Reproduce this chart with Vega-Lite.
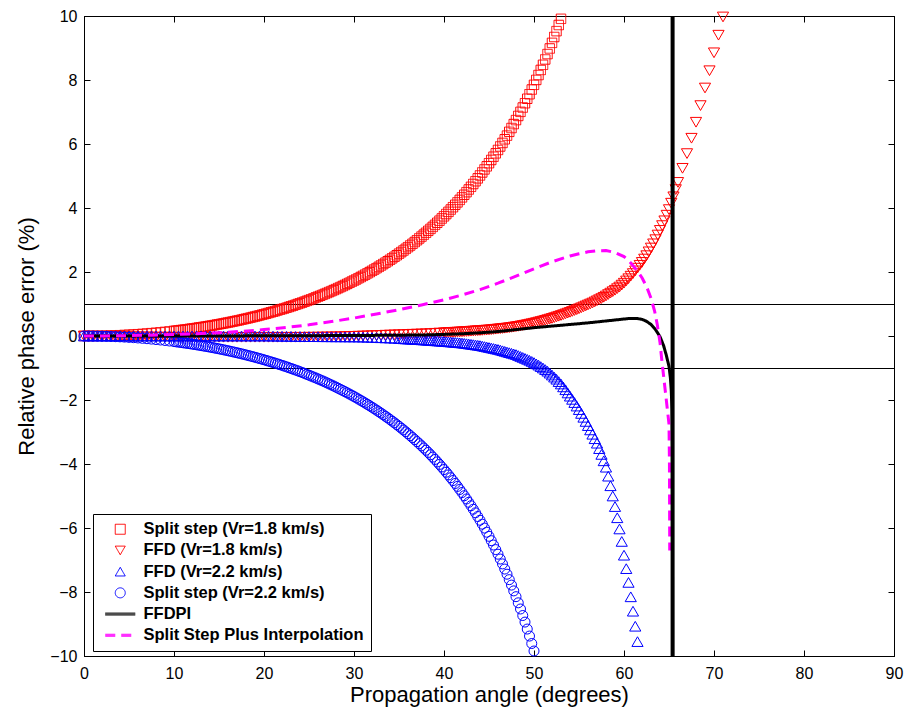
{
"$schema": "https://vega.github.io/schema/vega-lite/v6.json",
"width": 810, "height": 640,
"autosize": {"type": "none"},
"padding": {"left": 84, "top": 16, "right": 15, "bottom": 63},
"background": "white",
"config": {
  "font": "Liberation Sans",
  "view": {"stroke": "black", "strokeWidth": 1},
  "axis": {"grid": false, "domainColor": "black", "domainWidth": 1, "tickColor": "black", "tickWidth": 1, "tickSize": -6, "labelColor": "black", "titleColor": "black", "labelFont": "Liberation Sans", "titleFont": "Liberation Sans", "labelFontSize": 16, "titleFontSize": 22, "titleFontWeight": "normal", "labelFlush": false, "labelOverlap": false},
  "legend": {"labelFont": "Liberation Sans", "labelFontWeight": "bold", "labelFontSize": 16.5, "labelColor": "black", "labelLimit": 400, "symbolSize": 100, "symbolStrokeWidth": 1, "symbolFillColor": "transparent"}
},
"datasets": {
"sq": [
{"x":0,"y":0},{"x":0.5,"y":0},{"x":1,"y":0.002},{"x":1.5,"y":0.004},{"x":2,"y":0.006},{"x":2.5,"y":0.01},{"x":3,"y":0.014},{"x":3.5,"y":0.019},{"x":4,"y":0.025},{"x":4.5,"y":0.032},{"x":5,"y":0.039},{"x":5.5,"y":0.047},{"x":6,"y":0.056},{"x":6.5,"y":0.066},{"x":7,"y":0.077},{"x":7.5,"y":0.089},{"x":8,"y":0.101},{"x":8.5,"y":0.114},{"x":9,"y":0.128},{"x":9.5,"y":0.143},{"x":10,"y":0.159},{"x":10.25,"y":0.167},{"x":10.5,"y":0.176},{"x":10.75,"y":0.184},{"x":11,"y":0.193},{"x":11.25,"y":0.202},{"x":11.5,"y":0.212},{"x":11.75,"y":0.221},{"x":12,"y":0.231},{"x":12.25,"y":0.241},{"x":12.5,"y":0.251},{"x":12.75,"y":0.262},{"x":13,"y":0.273},{"x":13.25,"y":0.284},{"x":13.5,"y":0.295},{"x":13.75,"y":0.306},{"x":14,"y":0.318},{"x":14.25,"y":0.33},{"x":14.5,"y":0.342},{"x":14.75,"y":0.355},{"x":15,"y":0.368},{"x":15.25,"y":0.381},{"x":15.5,"y":0.394},{"x":15.75,"y":0.407},{"x":16,"y":0.421},{"x":16.25,"y":0.435},{"x":16.5,"y":0.45},{"x":16.75,"y":0.464},{"x":17,"y":0.479},{"x":17.25,"y":0.494},{"x":17.5,"y":0.51},{"x":17.75,"y":0.526},{"x":18,"y":0.542},{"x":18.25,"y":0.558},{"x":18.5,"y":0.575},{"x":18.75,"y":0.592},{"x":19,"y":0.609},{"x":19.25,"y":0.626},{"x":19.5,"y":0.644},{"x":19.75,"y":0.662},{"x":20,"y":0.681},{"x":20.25,"y":0.7},{"x":20.5,"y":0.719},{"x":20.75,"y":0.738},{"x":21,"y":0.758},{"x":21.25,"y":0.778},{"x":21.5,"y":0.799},{"x":21.75,"y":0.82},{"x":22,"y":0.841},{"x":22.25,"y":0.862},{"x":22.5,"y":0.884},{"x":22.75,"y":0.906},{"x":23,"y":0.929},{"x":23.25,"y":0.952},{"x":23.5,"y":0.975},{"x":23.75,"y":0.999},{"x":24,"y":1.023},{"x":24.25,"y":1.047},{"x":24.5,"y":1.072},{"x":24.75,"y":1.097},{"x":25,"y":1.123},{"x":25.25,"y":1.149},{"x":25.5,"y":1.176},{"x":25.75,"y":1.203},{"x":26,"y":1.23},{"x":26.25,"y":1.258},{"x":26.5,"y":1.286},{"x":26.75,"y":1.315},{"x":27,"y":1.344},{"x":27.25,"y":1.374},{"x":27.5,"y":1.404},{"x":27.75,"y":1.435},{"x":28,"y":1.466},{"x":28.25,"y":1.498},{"x":28.5,"y":1.53},{"x":28.75,"y":1.562},{"x":29,"y":1.595},{"x":29.25,"y":1.629},{"x":29.5,"y":1.663},{"x":29.75,"y":1.698},{"x":30,"y":1.733},{"x":30.25,"y":1.769},{"x":30.5,"y":1.806},{"x":30.75,"y":1.843},{"x":31,"y":1.88},{"x":31.25,"y":1.919},{"x":31.5,"y":1.958},{"x":31.75,"y":1.997},{"x":32,"y":2.037},{"x":32.25,"y":2.078},{"x":32.5,"y":2.119},{"x":32.75,"y":2.161},{"x":33,"y":2.204},{"x":33.25,"y":2.248},{"x":33.5,"y":2.292},{"x":33.75,"y":2.337},{"x":34,"y":2.382},{"x":34.25,"y":2.429},{"x":34.5,"y":2.476},{"x":34.75,"y":2.524},{"x":35,"y":2.573},{"x":35.25,"y":2.622},{"x":35.5,"y":2.672},{"x":35.75,"y":2.724},{"x":36,"y":2.776},{"x":36.25,"y":2.829},{"x":36.5,"y":2.882},{"x":36.75,"y":2.937},{"x":37,"y":2.993},{"x":37.25,"y":3.05},{"x":37.5,"y":3.107},{"x":37.75,"y":3.166},{"x":38,"y":3.225},{"x":38.25,"y":3.286},{"x":38.5,"y":3.347},{"x":38.75,"y":3.41},{"x":39,"y":3.473},{"x":39.25,"y":3.538},{"x":39.5,"y":3.604},{"x":39.75,"y":3.672},{"x":40,"y":3.74},{"x":40.25,"y":3.81},{"x":40.5,"y":3.88},{"x":40.75,"y":3.952},{"x":41,"y":4.025},{"x":41.25,"y":4.1},{"x":41.5,"y":4.176},{"x":41.75,"y":4.254},{"x":42,"y":4.332},{"x":42.25,"y":4.413},{"x":42.5,"y":4.494},{"x":42.75,"y":4.578},{"x":43,"y":4.662},{"x":43.25,"y":4.749},{"x":43.5,"y":4.836},{"x":43.75,"y":4.926},{"x":44,"y":5.017},{"x":44.25,"y":5.111},{"x":44.5,"y":5.205},{"x":44.75,"y":5.302},{"x":45,"y":5.4},{"x":45.25,"y":5.501},{"x":45.5,"y":5.603},{"x":45.75,"y":5.708},{"x":46,"y":5.814},{"x":46.25,"y":5.923},{"x":46.5,"y":6.033},{"x":46.75,"y":6.147},{"x":47,"y":6.262},{"x":47.25,"y":6.38},{"x":47.5,"y":6.499},{"x":47.75,"y":6.623},{"x":48,"y":6.747},{"x":48.25,"y":6.876},{"x":48.5,"y":7.005},{"x":48.75,"y":7.139},{"x":49,"y":7.274},{"x":49.25,"y":7.414},{"x":49.5,"y":7.555},{"x":49.75,"y":7.702},{"x":50,"y":7.849},{"x":50.25,"y":8.002},{"x":50.5,"y":8.155},{"x":50.75,"y":8.315},{"x":51,"y":8.475},{"x":51.25,"y":8.642},{"x":51.5,"y":8.81},{"x":51.75,"y":8.985},{"x":52,"y":9.16},{"x":52.25,"y":9.343},{"x":52.5,"y":9.527},{"x":52.75,"y":9.719},{"x":53,"y":9.912}
],
"tri": [
{"s":"b","x":0,"y":0},{"s":"b","x":0.5,"y":0},{"s":"b","x":1,"y":-0.005},{"s":"b","x":1.5,"y":-0.005},{"s":"b","x":2,"y":-0.01},{"s":"b","x":2.5,"y":-0.01},{"s":"b","x":3,"y":-0.012},{"s":"b","x":3.5,"y":-0.015},{"s":"b","x":4,"y":-0.017},{"s":"b","x":4.5,"y":-0.02},{"s":"b","x":5,"y":-0.022},{"s":"b","x":5.5,"y":-0.024},{"s":"b","x":6,"y":-0.026},{"s":"b","x":6.5,"y":-0.028},{"s":"b","x":7,"y":-0.03},{"s":"b","x":7.5,"y":-0.032},{"s":"b","x":8,"y":-0.034},{"s":"b","x":8.5,"y":-0.035},{"s":"b","x":9,"y":-0.036},{"s":"b","x":9.5,"y":-0.037},{"s":"b","x":10,"y":-0.038},{"s":"b","x":10.5,"y":-0.039},{"s":"b","x":11,"y":-0.04},{"s":"b","x":11.5,"y":-0.04},{"s":"b","x":12,"y":-0.04},{"s":"b","x":12.5,"y":-0.04},{"s":"b","x":13,"y":-0.04},{"s":"b","x":13.5,"y":-0.04},{"s":"b","x":14,"y":-0.04},{"s":"b","x":14.5,"y":-0.04},{"s":"b","x":15,"y":-0.04},{"s":"b","x":15.5,"y":-0.04},{"s":"b","x":16,"y":-0.04},{"s":"b","x":16.5,"y":-0.04},{"s":"b","x":17,"y":-0.04},{"s":"b","x":17.5,"y":-0.04},{"s":"b","x":18,"y":-0.04},{"s":"b","x":18.5,"y":-0.04},{"s":"b","x":19,"y":-0.04},{"s":"b","x":19.5,"y":-0.04},{"s":"b","x":20,"y":-0.04},{"s":"b","x":20.5,"y":-0.04},{"s":"b","x":21,"y":-0.04},{"s":"b","x":21.5,"y":-0.04},{"s":"b","x":22,"y":-0.04},{"s":"b","x":22.5,"y":-0.04},{"s":"b","x":23,"y":-0.04},{"s":"b","x":23.5,"y":-0.04},{"s":"b","x":24,"y":-0.04},{"s":"b","x":24.5,"y":-0.039},{"s":"b","x":25,"y":-0.038},{"s":"b","x":25.5,"y":-0.037},{"s":"b","x":26,"y":-0.035},{"s":"b","x":26.5,"y":-0.033},{"s":"b","x":27,"y":-0.03},{"s":"b","x":27.5,"y":-0.028},{"s":"b","x":28,"y":-0.025},{"s":"b","x":28.5,"y":-0.022},{"s":"b","x":29,"y":-0.018},{"s":"b","x":29.5,"y":-0.014},{"s":"b","x":30,"y":-0.01},{"s":"b","x":30.5,"y":-0.005},{"s":"b","x":31,"y":0},{"s":"b","x":31.5,"y":0.005},{"s":"b","x":32,"y":0.01},{"s":"b","x":32.5,"y":0.015},{"s":"b","x":33,"y":0.02},{"s":"b","x":33.5,"y":0.025},{"s":"b","x":34,"y":0.03},{"s":"b","x":34.5,"y":0.035},{"s":"b","x":35,"y":0.04},{"s":"b","x":35.5,"y":0.045},{"s":"b","x":36,"y":0.05},{"s":"b","x":36.5,"y":0.055},{"s":"b","x":37,"y":0.06},{"s":"b","x":37.5,"y":0.065},{"s":"b","x":38,"y":0.07},{"s":"b","x":38.5,"y":0.077},{"s":"b","x":39,"y":0.085},{"s":"b","x":39.5,"y":0.092},{"s":"b","x":40,"y":0.1},{"s":"b","x":40.25,"y":0.103},{"s":"b","x":40.5,"y":0.107},{"s":"b","x":40.75,"y":0.111},{"s":"b","x":41,"y":0.115},{"s":"b","x":41.25,"y":0.118},{"s":"b","x":41.5,"y":0.122},{"s":"b","x":41.75,"y":0.126},{"s":"b","x":42,"y":0.13},{"s":"b","x":42.25,"y":0.135},{"s":"b","x":42.5,"y":0.14},{"s":"b","x":42.75,"y":0.145},{"s":"b","x":43,"y":0.15},{"s":"b","x":43.25,"y":0.155},{"s":"b","x":43.5,"y":0.16},{"s":"b","x":43.75,"y":0.165},{"s":"b","x":44,"y":0.17},{"s":"b","x":44.25,"y":0.175},{"s":"b","x":44.5,"y":0.18},{"s":"b","x":44.75,"y":0.185},{"s":"b","x":45,"y":0.19},{"s":"b","x":45.25,"y":0.197},{"s":"b","x":45.5,"y":0.205},{"s":"b","x":45.75,"y":0.212},{"s":"b","x":46,"y":0.22},{"s":"b","x":46.25,"y":0.227},{"s":"b","x":46.5,"y":0.235},{"s":"b","x":46.75,"y":0.242},{"s":"b","x":47,"y":0.25},{"s":"b","x":47.25,"y":0.26},{"s":"b","x":47.5,"y":0.27},{"s":"b","x":47.75,"y":0.28},{"s":"b","x":48,"y":0.29},{"s":"b","x":48.25,"y":0.302},{"s":"b","x":48.5,"y":0.315},{"s":"b","x":48.75,"y":0.327},{"s":"b","x":49,"y":0.34},{"s":"b","x":49.25,"y":0.355},{"s":"b","x":49.5,"y":0.37},{"s":"b","x":49.75,"y":0.385},{"s":"b","x":50,"y":0.4},{"s":"b","x":50.25,"y":0.417},{"s":"b","x":50.5,"y":0.435},{"s":"b","x":50.75,"y":0.452},{"s":"b","x":51,"y":0.47},{"s":"b","x":51.25,"y":0.49},{"s":"b","x":51.5,"y":0.51},{"s":"b","x":51.75,"y":0.53},{"s":"b","x":52,"y":0.55},{"s":"b","x":52.25,"y":0.572},{"s":"b","x":52.5,"y":0.595},{"s":"b","x":52.75,"y":0.617},{"s":"b","x":53,"y":0.64},{"s":"b","x":53.25,"y":0.665},{"s":"b","x":53.5,"y":0.69},{"s":"b","x":53.75,"y":0.715},{"s":"b","x":54,"y":0.74},{"s":"b","x":54.25,"y":0.767},{"s":"b","x":54.5,"y":0.795},{"s":"b","x":54.75,"y":0.822},{"s":"b","x":55,"y":0.85},{"s":"b","x":55.25,"y":0.88},{"s":"b","x":55.5,"y":0.91},{"s":"b","x":55.75,"y":0.94},{"s":"b","x":56,"y":0.97},{"s":"b","x":56.25,"y":1.0},{"s":"b","x":56.5,"y":1.03},{"s":"b","x":56.75,"y":1.065},{"s":"b","x":57,"y":1.1},{"s":"b","x":57.25,"y":1.135},{"s":"b","x":57.5,"y":1.17},{"s":"b","x":57.75,"y":1.21},{"s":"b","x":58,"y":1.25},{"s":"b","x":58.25,"y":1.295},{"s":"b","x":58.5,"y":1.34},{"s":"b","x":58.75,"y":1.385},{"s":"b","x":59,"y":1.43},{"s":"b","x":59.25,"y":1.48},{"s":"b","x":59.5,"y":1.53},{"s":"b","x":59.75,"y":1.59},{"s":"b","x":60,"y":1.65},{"s":"b","x":60.25,"y":1.72},{"s":"b","x":60.5,"y":1.79},{"s":"b","x":60.75,"y":1.87},{"s":"b","x":61,"y":1.95},{"s":"b","x":61.25,"y":2.035},{"s":"b","x":61.5,"y":2.12},{"s":"b","x":61.75,"y":2.21},{"s":"b","x":62,"y":2.3},{"s":"b","x":62.25,"y":2.405},{"s":"b","x":62.5,"y":2.51},{"s":"b","x":62.75,"y":2.63},{"s":"b","x":63,"y":2.75},{"s":"b","x":63.25,"y":2.88},{"s":"b","x":63.5,"y":3.01},{"s":"b","x":63.75,"y":3.155},{"s":"b","x":64,"y":3.3},{"s":"b","x":64.25,"y":3.45},{"s":"b","x":64.5,"y":3.6},{"s":"b","x":64.75,"y":3.775},{"s":"b","x":65,"y":3.95},{"s":"b","x":65.25,"y":4.15},{"s":"b","x":65.5,"y":4.35},{"s":"b","x":65.75,"y":4.575},{"s":"b","x":66,"y":4.8},{"s":"b","x":66.5,"y":5.24},{"s":"b","x":67,"y":5.7},{"s":"b","x":67.5,"y":6.18},{"s":"b","x":68,"y":6.68},{"s":"b","x":68.5,"y":7.2},{"s":"b","x":69,"y":7.75},{"s":"b","x":69.5,"y":8.29},{"s":"b","x":70,"y":8.85},{"s":"b","x":70.5,"y":9.4},{"s":"b","x":71,"y":9.97},
{"s":"c","x":0,"y":0},{"s":"c","x":0.5,"y":0},{"s":"c","x":1,"y":0},{"s":"c","x":1.5,"y":0},{"s":"c","x":2,"y":0},{"s":"c","x":2.5,"y":0},{"s":"c","x":3,"y":0},{"s":"c","x":3.5,"y":0},{"s":"c","x":4,"y":0},{"s":"c","x":4.5,"y":0},{"s":"c","x":5,"y":0},{"s":"c","x":5.5,"y":0},{"s":"c","x":6,"y":0},{"s":"c","x":6.5,"y":0},{"s":"c","x":7,"y":0},{"s":"c","x":7.5,"y":0},{"s":"c","x":8,"y":0},{"s":"c","x":8.5,"y":0},{"s":"c","x":9,"y":0},{"s":"c","x":9.5,"y":0},{"s":"c","x":10,"y":0},{"s":"c","x":10.5,"y":0},{"s":"c","x":11,"y":0},{"s":"c","x":11.5,"y":0},{"s":"c","x":12,"y":0},{"s":"c","x":12.5,"y":0},{"s":"c","x":13,"y":0},{"s":"c","x":13.5,"y":0},{"s":"c","x":14,"y":0},{"s":"c","x":14.5,"y":0},{"s":"c","x":15,"y":0},{"s":"c","x":15.5,"y":0},{"s":"c","x":16,"y":0},{"s":"c","x":16.5,"y":0},{"s":"c","x":17,"y":0},{"s":"c","x":17.5,"y":0},{"s":"c","x":18,"y":0},{"s":"c","x":18.5,"y":0},{"s":"c","x":19,"y":0},{"s":"c","x":19.5,"y":0},{"s":"c","x":20,"y":0},{"s":"c","x":20.5,"y":-0.002},{"s":"c","x":21,"y":-0.004},{"s":"c","x":21.5,"y":-0.006},{"s":"c","x":22,"y":-0.008},{"s":"c","x":22.5,"y":-0.01},{"s":"c","x":23,"y":-0.012},{"s":"c","x":23.5,"y":-0.014},{"s":"c","x":24,"y":-0.016},{"s":"c","x":24.5,"y":-0.018},{"s":"c","x":25,"y":-0.02},{"s":"c","x":25.5,"y":-0.021},{"s":"c","x":26,"y":-0.022},{"s":"c","x":26.5,"y":-0.023},{"s":"c","x":27,"y":-0.024},{"s":"c","x":27.5,"y":-0.025},{"s":"c","x":28,"y":-0.026},{"s":"c","x":28.5,"y":-0.027},{"s":"c","x":29,"y":-0.028},{"s":"c","x":29.5,"y":-0.029},{"s":"c","x":30,"y":-0.03},{"s":"c","x":30.5,"y":-0.032},{"s":"c","x":31,"y":-0.035},{"s":"c","x":31.5,"y":-0.04},{"s":"c","x":32,"y":-0.045},{"s":"c","x":32.5,"y":-0.05},{"s":"c","x":33,"y":-0.055},{"s":"c","x":33.5,"y":-0.06},{"s":"c","x":34,"y":-0.065},{"s":"c","x":34.5,"y":-0.072},{"s":"c","x":35,"y":-0.08},{"s":"c","x":35.25,"y":-0.083},{"s":"c","x":35.5,"y":-0.087},{"s":"c","x":35.75,"y":-0.091},{"s":"c","x":36,"y":-0.095},{"s":"c","x":36.25,"y":-0.098},{"s":"c","x":36.5,"y":-0.102},{"s":"c","x":36.75,"y":-0.106},{"s":"c","x":37,"y":-0.11},{"s":"c","x":37.25,"y":-0.115},{"s":"c","x":37.5,"y":-0.12},{"s":"c","x":37.75,"y":-0.125},{"s":"c","x":38,"y":-0.13},{"s":"c","x":38.25,"y":-0.135},{"s":"c","x":38.5,"y":-0.14},{"s":"c","x":38.75,"y":-0.145},{"s":"c","x":39,"y":-0.15},{"s":"c","x":39.25,"y":-0.155},{"s":"c","x":39.5,"y":-0.16},{"s":"c","x":39.75,"y":-0.165},{"s":"c","x":40,"y":-0.17},{"s":"c","x":40.25,"y":-0.176},{"s":"c","x":40.5,"y":-0.182},{"s":"c","x":40.75,"y":-0.188},{"s":"c","x":41,"y":-0.195},{"s":"c","x":41.25,"y":-0.201},{"s":"c","x":41.5,"y":-0.207},{"s":"c","x":41.75,"y":-0.213},{"s":"c","x":42,"y":-0.22},{"s":"c","x":42.25,"y":-0.23},{"s":"c","x":42.5,"y":-0.24},{"s":"c","x":42.75,"y":-0.25},{"s":"c","x":43,"y":-0.26},{"s":"c","x":43.25,"y":-0.27},{"s":"c","x":43.5,"y":-0.28},{"s":"c","x":43.75,"y":-0.29},{"s":"c","x":44,"y":-0.3},{"s":"c","x":44.25,"y":-0.315},{"s":"c","x":44.5,"y":-0.33},{"s":"c","x":44.75,"y":-0.345},{"s":"c","x":45,"y":-0.36},{"s":"c","x":45.25,"y":-0.375},{"s":"c","x":45.5,"y":-0.39},{"s":"c","x":45.75,"y":-0.405},{"s":"c","x":46,"y":-0.42},{"s":"c","x":46.25,"y":-0.44},{"s":"c","x":46.5,"y":-0.46},{"s":"c","x":46.75,"y":-0.48},{"s":"c","x":47,"y":-0.5},{"s":"c","x":47.25,"y":-0.52},{"s":"c","x":47.5,"y":-0.54},{"s":"c","x":47.75,"y":-0.56},{"s":"c","x":48,"y":-0.58},{"s":"c","x":48.25,"y":-0.61},{"s":"c","x":48.5,"y":-0.64},{"s":"c","x":48.75,"y":-0.67},{"s":"c","x":49,"y":-0.7},{"s":"c","x":49.25,"y":-0.73},{"s":"c","x":49.5,"y":-0.76},{"s":"c","x":49.75,"y":-0.795},{"s":"c","x":50,"y":-0.83},{"s":"c","x":50.25,"y":-0.87},{"s":"c","x":50.5,"y":-0.91},{"s":"c","x":50.75,"y":-0.955},{"s":"c","x":51,"y":-1.0},{"s":"c","x":51.25,"y":-1.05},{"s":"c","x":51.5,"y":-1.1},{"s":"c","x":51.75,"y":-1.16},{"s":"c","x":52,"y":-1.22},{"s":"c","x":52.25,"y":-1.285},{"s":"c","x":52.5,"y":-1.35},{"s":"c","x":52.75,"y":-1.425},{"s":"c","x":53,"y":-1.5},{"s":"c","x":53.25,"y":-1.59},{"s":"c","x":53.5,"y":-1.68},{"s":"c","x":53.75,"y":-1.78},{"s":"c","x":54,"y":-1.88},{"s":"c","x":54.25,"y":-1.98},{"s":"c","x":54.5,"y":-2.08},{"s":"c","x":54.75,"y":-2.19},{"s":"c","x":55,"y":-2.3},{"s":"c","x":55.25,"y":-2.42},{"s":"c","x":55.5,"y":-2.54},{"s":"c","x":55.75,"y":-2.67},{"s":"c","x":56,"y":-2.8},{"s":"c","x":56.25,"y":-2.935},{"s":"c","x":56.5,"y":-3.07},{"s":"c","x":56.75,"y":-3.21},{"s":"c","x":57,"y":-3.35},{"s":"c","x":57.25,"y":-3.52},{"s":"c","x":57.5,"y":-3.7},{"s":"c","x":57.75,"y":-3.9},{"s":"c","x":58,"y":-4.1},{"s":"c","x":58.25,"y":-4.38},{"s":"c","x":58.5,"y":-4.68},{"s":"c","x":58.75,"y":-5.0},{"s":"c","x":59,"y":-5.33},{"s":"c","x":59.25,"y":-5.68},{"s":"c","x":59.5,"y":-6.03},{"s":"c","x":59.75,"y":-6.42},{"s":"c","x":60,"y":-6.85},{"s":"c","x":60.25,"y":-7.27},{"s":"c","x":60.5,"y":-7.7},{"s":"c","x":60.75,"y":-8.15},{"s":"c","x":61,"y":-8.6},{"s":"c","x":61.25,"y":-9.07},{"s":"c","x":61.5,"y":-9.55}
],
"circ": [
{"x":0,"y":0},{"x":0.5,"y":0},{"x":1,"y":-0.002},{"x":1.5,"y":-0.004},{"x":2,"y":-0.007},{"x":2.5,"y":-0.011},{"x":3,"y":-0.015},{"x":3.5,"y":-0.021},{"x":4,"y":-0.027},{"x":4.5,"y":-0.035},{"x":5,"y":-0.043},{"x":5.5,"y":-0.052},{"x":6,"y":-0.062},{"x":6.5,"y":-0.073},{"x":7,"y":-0.084},{"x":7.5,"y":-0.097},{"x":8,"y":-0.111},{"x":8.5,"y":-0.125},{"x":9,"y":-0.14},{"x":9.5,"y":-0.157},{"x":10,"y":-0.174},{"x":10.25,"y":-0.183},{"x":10.5,"y":-0.192},{"x":10.75,"y":-0.202},{"x":11,"y":-0.212},{"x":11.25,"y":-0.222},{"x":11.5,"y":-0.232},{"x":11.75,"y":-0.242},{"x":12,"y":-0.253},{"x":12.25,"y":-0.264},{"x":12.5,"y":-0.275},{"x":12.75,"y":-0.287},{"x":13,"y":-0.299},{"x":13.25,"y":-0.311},{"x":13.5,"y":-0.323},{"x":13.75,"y":-0.335},{"x":14,"y":-0.348},{"x":14.25,"y":-0.361},{"x":14.5,"y":-0.375},{"x":14.75,"y":-0.388},{"x":15,"y":-0.402},{"x":15.25,"y":-0.416},{"x":15.5,"y":-0.431},{"x":15.75,"y":-0.446},{"x":16,"y":-0.461},{"x":16.25,"y":-0.476},{"x":16.5,"y":-0.492},{"x":16.75,"y":-0.508},{"x":17,"y":-0.524},{"x":17.25,"y":-0.54},{"x":17.5,"y":-0.557},{"x":17.75,"y":-0.574},{"x":18,"y":-0.592},{"x":18.25,"y":-0.61},{"x":18.5,"y":-0.628},{"x":18.75,"y":-0.646},{"x":19,"y":-0.665},{"x":19.25,"y":-0.684},{"x":19.5,"y":-0.704},{"x":19.75,"y":-0.723},{"x":20,"y":-0.743},{"x":20.25,"y":-0.764},{"x":20.5,"y":-0.785},{"x":20.75,"y":-0.806},{"x":21,"y":-0.827},{"x":21.25,"y":-0.849},{"x":21.5,"y":-0.871},{"x":21.75,"y":-0.894},{"x":22,"y":-0.917},{"x":22.25,"y":-0.94},{"x":22.5,"y":-0.964},{"x":22.75,"y":-0.988},{"x":23,"y":-1.013},{"x":23.25,"y":-1.038},{"x":23.5,"y":-1.063},{"x":23.75,"y":-1.089},{"x":24,"y":-1.115},{"x":24.25,"y":-1.142},{"x":24.5,"y":-1.169},{"x":24.75,"y":-1.197},{"x":25,"y":-1.225},{"x":25.25,"y":-1.253},{"x":25.5,"y":-1.282},{"x":25.75,"y":-1.311},{"x":26,"y":-1.341},{"x":26.25,"y":-1.371},{"x":26.5,"y":-1.402},{"x":26.75,"y":-1.433},{"x":27,"y":-1.465},{"x":27.25,"y":-1.498},{"x":27.5,"y":-1.531},{"x":27.75,"y":-1.564},{"x":28,"y":-1.598},{"x":28.25,"y":-1.633},{"x":28.5,"y":-1.668},{"x":28.75,"y":-1.704},{"x":29,"y":-1.74},{"x":29.25,"y":-1.777},{"x":29.5,"y":-1.814},{"x":29.75,"y":-1.852},{"x":30,"y":-1.891},{"x":30.25,"y":-1.931},{"x":30.5,"y":-1.971},{"x":30.75,"y":-2.012},{"x":31,"y":-2.053},{"x":31.25,"y":-2.095},{"x":31.5,"y":-2.138},{"x":31.75,"y":-2.182},{"x":32,"y":-2.226},{"x":32.25,"y":-2.271},{"x":32.5,"y":-2.317},{"x":32.75,"y":-2.364},{"x":33,"y":-2.411},{"x":33.25,"y":-2.46},{"x":33.5,"y":-2.509},{"x":33.75,"y":-2.559},{"x":34,"y":-2.61},{"x":34.25,"y":-2.662},{"x":34.5,"y":-2.715},{"x":34.75,"y":-2.769},{"x":35,"y":-2.823},{"x":35.25,"y":-2.879},{"x":35.5,"y":-2.936},{"x":35.75,"y":-2.994},{"x":36,"y":-3.053},{"x":36.25,"y":-3.114},{"x":36.5,"y":-3.175},{"x":36.75,"y":-3.238},{"x":37,"y":-3.301},{"x":37.25,"y":-3.366},{"x":37.5,"y":-3.432},{"x":37.75,"y":-3.5},{"x":38,"y":-3.568},{"x":38.25,"y":-3.639},{"x":38.5,"y":-3.711},{"x":38.75,"y":-3.784},{"x":39,"y":-3.858},{"x":39.25,"y":-3.935},{"x":39.5,"y":-4.013},{"x":39.75,"y":-4.093},{"x":40,"y":-4.173},{"x":40.25,"y":-4.257},{"x":40.5,"y":-4.341},{"x":40.75,"y":-4.429},{"x":41,"y":-4.517},{"x":41.25,"y":-4.608},{"x":41.5,"y":-4.7},{"x":41.75,"y":-4.796},{"x":42,"y":-4.892},{"x":42.25,"y":-4.992},{"x":42.5,"y":-5.093},{"x":42.75,"y":-5.198},{"x":43,"y":-5.304},{"x":43.25,"y":-5.414},{"x":43.5,"y":-5.525},{"x":43.75,"y":-5.641},{"x":44,"y":-5.758},{"x":44.25,"y":-5.88},{"x":44.5,"y":-6.002},{"x":44.75,"y":-6.131},{"x":45,"y":-6.26},{"x":45.25,"y":-6.396},{"x":45.5,"y":-6.532},{"x":45.75,"y":-6.675},{"x":46,"y":-6.819},{"x":46.25,"y":-6.97},{"x":46.5,"y":-7.122},{"x":46.75,"y":-7.283},{"x":47,"y":-7.444},{"x":47.25,"y":-7.614},{"x":47.5,"y":-7.784},{"x":47.75,"y":-7.965},{"x":48,"y":-8.146},{"x":48.25,"y":-8.338},{"x":48.5,"y":-8.531},{"x":48.75,"y":-8.735},{"x":49,"y":-8.94},{"x":49.25,"y":-9.158},{"x":49.5,"y":-9.377},{"x":49.75,"y":-9.61},{"x":50,"y":-9.844}
],
"lines": [
{"s":"e","x":0,"y":0},{"s":"e","x":10,"y":0},{"s":"e","x":20,"y":0.005},{"s":"e","x":25,"y":0.01},{"s":"e","x":30,"y":0.015},{"s":"e","x":35,"y":0.025},{"s":"e","x":38,"y":0.035},{"s":"e","x":40,"y":0.05},{"s":"e","x":42,"y":0.07},{"s":"e","x":44,"y":0.1},{"s":"e","x":46,"y":0.14},{"s":"e","x":48,"y":0.2},{"s":"e","x":50,"y":0.26},{"s":"e","x":52,"y":0.31},{"s":"e","x":54,"y":0.36},{"s":"e","x":56,"y":0.41},{"s":"e","x":58,"y":0.47},{"s":"e","x":59,"y":0.5},{"s":"e","x":60,"y":0.53},{"s":"e","x":60.5,"y":0.545},{"s":"e","x":61,"y":0.55},{"s":"e","x":61.5,"y":0.545},{"s":"e","x":62,"y":0.52},{"s":"e","x":62.5,"y":0.46},{"s":"e","x":63,"y":0.36},{"s":"e","x":63.5,"y":0.2},{"s":"e","x":64,"y":-0.02},{"s":"e","x":64.4,"y":-0.3},{"s":"e","x":64.7,"y":-0.6},{"s":"e","x":65,"y":-0.95},{"s":"e","x":65.15,"y":-1.3},{"s":"e","x":65.25,"y":-1.7},{"s":"e","x":65.33,"y":-2.3},{"s":"e","x":65.38,"y":-3.5},{"s":"e","x":65.4,"y":-10},
{"s":"f","x":0,"y":0},{"s":"f","x":2.5,"y":0.003},{"s":"f","x":5,"y":0.012},{"s":"f","x":7.5,"y":0.026},{"s":"f","x":10,"y":0.045},{"s":"f","x":12.5,"y":0.07},{"s":"f","x":15,"y":0.1},{"s":"f","x":17.5,"y":0.145},{"s":"f","x":20,"y":0.2},{"s":"f","x":22.5,"y":0.27},{"s":"f","x":25,"y":0.35},{"s":"f","x":27.5,"y":0.45},{"s":"f","x":30,"y":0.56},{"s":"f","x":32.5,"y":0.69},{"s":"f","x":35,"y":0.82},{"s":"f","x":37.5,"y":0.97},{"s":"f","x":40,"y":1.13},{"s":"f","x":42,"y":1.28},{"s":"f","x":44,"y":1.45},{"s":"f","x":46,"y":1.65},{"s":"f","x":48,"y":1.87},{"s":"f","x":50,"y":2.1},{"s":"f","x":52,"y":2.32},{"s":"f","x":54,"y":2.5},{"s":"f","x":55,"y":2.57},{"s":"f","x":56,"y":2.63},{"s":"f","x":57,"y":2.665},{"s":"f","x":58,"y":2.67},{"s":"f","x":59,"y":2.61},{"s":"f","x":60,"y":2.48},{"s":"f","x":60.5,"y":2.36},{"s":"f","x":61,"y":2.2},{"s":"f","x":61.5,"y":2.03},{"s":"f","x":62,"y":1.82},{"s":"f","x":62.5,"y":1.55},{"s":"f","x":63,"y":1.18},{"s":"f","x":63.4,"y":0.78},{"s":"f","x":63.7,"y":0.35},{"s":"f","x":64,"y":-0.2},{"s":"f","x":64.2,"y":-0.75},{"s":"f","x":64.4,"y":-1.25},{"s":"f","x":64.6,"y":-1.75},{"s":"f","x":64.8,"y":-2.25},{"s":"f","x":65,"y":-2.75},{"s":"f","x":65.05,"y":-4.0},{"s":"f","x":65.08,"y":-6.7}
]
},
"layer": [
{
  "data": {"values": [{"y": 1}, {"y": -1}]},
  "mark": {"type": "rule", "color": "black", "strokeWidth": 1, "yOffset": 0.5},
  "encoding": {
    "y": {"field": "y", "type": "quantitative", "scale": {"domain": [-10, 10], "nice": false, "zero": false},
          "axis": {"orient": "right", "labels": false, "title": null, "values": [-10,-8,-6,-4,-2,0,2,4,6,8,10]}}
  }
},
{
  "data": {"name": "sq"},
  "mark": {"type": "point", "filled": false, "opacity": 1, "size": 90, "strokeWidth": 1},
  "encoding": {
    "x": {"field": "x", "type": "quantitative", "scale": {"domain": [0, 90], "nice": false, "zero": false},
          "axis": {"values": [0,10,20,30,40,50,60,70,80,90], "title": "Propagation angle (degrees)", "labelPadding": 15, "titleBaseline": "alphabetic", "titleY": 45, "titleX": 405}},
    "y": {"field": "y", "type": "quantitative",
          "axis": {"values": [-10,-8,-6,-4,-2,0,2,4,6,8,10], "title": "Relative phase error (%)", "labelPadding": 13, "titleBaseline": "alphabetic", "titleX": -51, "titleY": 320}},
    "color": {"datum": "a", "type": "nominal",
              "scale": {"domain": ["a","b","c","d","e","f"], "range": ["#ff0000","#ff0000","#0000ff","#0000ff","#000000","#ff00ff"]},
              "legend": {"title": null, "orient": "none", "legendX": 9, "legendY": 498, "labelExpr": "{'a':'Split step (Vr=1.8 km/s)','b':'FFD (Vr=1.8 km/s)','c':'FFD (Vr=2.2 km/s)','d':'Split step (Vr=2.2 km/s)','e':'FFDPI','f':'Split Step Plus Interpolation'}[datum.label]", "strokeColor": "black", "fillColor": "white", "padding": 7, "symbolOffset": 12, "labelOffset": 15, "rowPadding": 4.2}},
    "shape": {"datum": "a", "type": "nominal",
              "scale": {"domain": ["a","b","c","d","e","f"], "range": ["square","triangle-down","triangle-up","circle","M-3,-0.2H3M-3,0H3M-3,0.2H3","M-3,-0.2H3M-3,0H3M-3,0.2H3"]}},
    "strokeDash": {"datum": "a", "type": "nominal",
              "scale": {"domain": ["a","b","c","d","e","f"], "range": [[1,0],[1,0],[1,0],[1,0],[1,0],[10,6]]}}
  }
},
{
  "data": {"name": "tri"},
  "mark": {"type": "point", "filled": false, "opacity": 1, "size": 125, "strokeWidth": 1},
  "encoding": {
    "x": {"field": "x", "type": "quantitative", "axis": null},
    "y": {"field": "y", "type": "quantitative", "axis": null},
    "color": {"field": "s", "type": "nominal", "legend": null},
    "shape": {"field": "s", "type": "nominal", "legend": null}
  }
},
{
  "data": {"name": "circ"},
  "mark": {"type": "point", "filled": false, "opacity": 1, "size": 100, "strokeWidth": 1},
  "encoding": {
    "x": {"field": "x", "type": "quantitative", "axis": null},
    "y": {"field": "y", "type": "quantitative", "axis": null},
    "color": {"datum": "d", "type": "nominal", "legend": null},
    "shape": {"datum": "d", "type": "nominal", "legend": null}
  }
},
{
  "data": {"name": "lines"},
  "mark": {"type": "line", "strokeWidth": 3},
  "encoding": {
    "x": {"field": "x", "type": "quantitative", "axis": null},
    "y": {"field": "y", "type": "quantitative", "axis": null},
    "color": {"field": "s", "type": "nominal", "legend": null},
    "strokeDash": {"field": "s", "type": "nominal", "legend": null}
  }
},
{
  "data": {"values": [{"x": 65.4}]},
  "mark": {"type": "rule", "color": "black", "strokeWidth": 4},
  "encoding": {
    "x": {"field": "x", "type": "quantitative",
          "axis": {"orient": "top", "labels": false, "title": null, "values": [0,10,20,30,40,50,60,70,80,90]}}
  }
}
],
"resolve": {"axis": {"x": "independent", "y": "independent"}}
}
